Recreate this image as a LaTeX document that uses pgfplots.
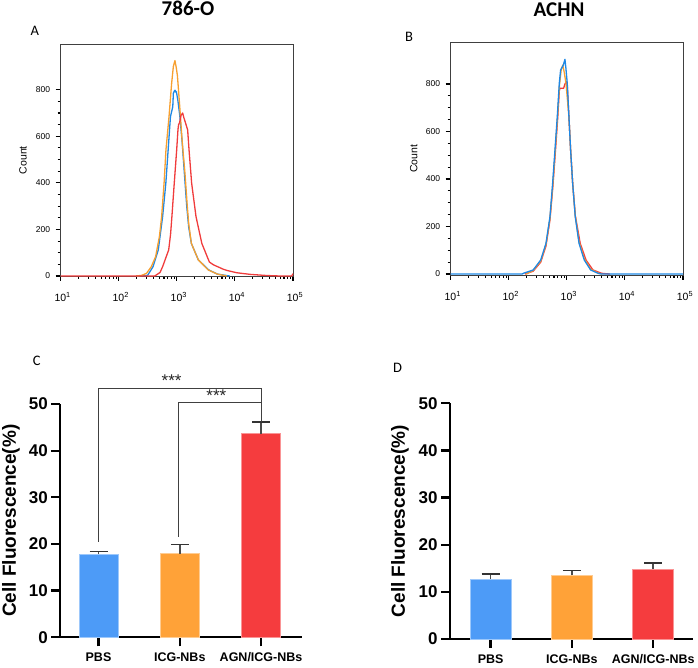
\documentclass[border=0pt]{standalone}
\usepackage{pgfplots}
\pgfplotsset{compat=1.18}
\usepackage{fontspec}
\setmainfont{Liberation Sans}
\newfontfamily\calibri{Carlito}
\definecolor{lblue}{RGB}{30,136,229}
\definecolor{lorange}{RGB}{247,160,48}
\definecolor{lred}{RGB}{240,60,60}
\definecolor{bblue}{RGB}{77,155,247}
\definecolor{borange}{RGB}{255,162,56}
\definecolor{bred}{RGB}{245,60,62}
\begin{document}
\begin{tikzpicture}
\path[use as bounding box] (0pt,0pt) rectangle (698pt,668pt);

% titles and panel letters
\node[font=\calibri\bfseries\fontsize{21}{21}\selectfont] at (188pt,659.5pt) {786-O};
\node[font=\calibri\bfseries\fontsize{21}{21}\selectfont] at (559pt,658pt) {ACHN};
\node[font=\calibri\fontsize{14.5}{14.5}\selectfont] at (34.7pt,636.7pt) {A};
\node[font=\calibri\fontsize{14.5}{14.5}\selectfont] at (409pt,631.3pt) {B};
\node[font=\calibri\fontsize{14.5}{14.5}\selectfont] at (36.7pt,307pt) {C};
\node[font=\calibri\fontsize{14.5}{14.5}\selectfont] at (397.7pt,300.3pt) {D};

% ---------------- Panel A ----------------
\begin{axis}[scale only axis, anchor=south west, clip=false,
    xmode=log, xmin=10, xmax=100000, width=232.3pt,
    at={(60.7pt,392pt)}, height=231.7pt, ymin=0, ymax=995,
    axis line style={black!75, line width=0.9pt},
    tick pos=left, tick align=outside,
    xtick={10,100,1000,10000,100000},
    minor xtick={20,30,40,50,60,70,80,90,200,300,400,500,600,700,800,900,2000,3000,4000,5000,6000,7000,8000,9000,20000,30000,40000,50000,60000,70000,80000,90000},
    xticklabels={10\textsuperscript{1},10\textsuperscript{2},10\textsuperscript{3},10\textsuperscript{4},10\textsuperscript{5}},
    ytick={0,200,400,600,800}, minor y tick num=3,
    major tick length=5pt, minor tick length=3pt,
    xtick style={black, line width=1.1pt}, ytick style={black, line width=1.1pt},
    /pgf/number format/assume math mode=true,
    yticklabel style={font=\fontsize{8.5}{8.5}\selectfont, xshift=-2pt},
    xticklabel style={font=\fontsize{10.5}{10.5}\selectfont, yshift=-8pt, xshift=2pt},
    ylabel=Count,
    ylabel style={font=\fontsize{10.5}{10.5}\selectfont, at={(axis description cs:-0.162,0.5)}, anchor=center}]
\addplot[lblue, no markers, line width=1.3pt, line join=round] coordinates {
(200,0)(300,2)(316,4)(389,40)(479,112)(569,255)(646,398)(708,541)(776,684)(851,727)
(871,785)(912,795)(933,798)(955,790)(977,792)(1000,780)(1047,750)(1122,690)(1230,580)
(1349,440)(1479,300)(1600,210)(1778,140)(2344,69)(3548,26)(5000,8)(8128,0)};
\addplot[lorange, no markers, line width=1.3pt, line join=round] coordinates {
(200,0)(251,3)(302,12)(363,40)(431,83)(501,170)(547,255)(603,400)(649,541)(733,684)
(813,827)(871,900)(927,925)(977,895)(1023,860)(1122,727)(1230,584)(1380,441)(1514,298)
(1600,225)(1778,140)(2344,69)(3467,26)(5000,8)(7244,0)};
\addplot[lred, no markers, line width=1.3pt, line join=round] coordinates {
(10,0)(417,0)(513,15)(569,40)(650,80)(724,112)(780,180)(822,255)(902,398)(993,541)
(1047,630)(1072,650)(1120,660)(1180,690)(1259,700)(1320,680)(1400,660)(1535,627)
(1622,541)(1799,398)(2138,255)(2692,140)(3631,60)(4266,48)(6310,29)(7244,24)(10715,14)
(18197,7)(35481,2)(60000,0)(95000,0)(100000,10)};
\end{axis}

% ---------------- Panel B ----------------
\begin{axis}[scale only axis, anchor=south west, clip=false,
    xmode=log, xmin=10, xmax=100000, width=232.3pt,
    at={(450.7pt,393pt)}, height=232.3pt, ymin=-4, ymax=974,
    axis line style={black!75, line width=0.9pt},
    tick pos=left, tick align=outside,
    xtick={10,100,1000,10000,100000},
    minor xtick={20,30,40,50,60,70,80,90,200,300,400,500,600,700,800,900,2000,3000,4000,5000,6000,7000,8000,9000,20000,30000,40000,50000,60000,70000,80000,90000},
    xticklabels={10\textsuperscript{1},10\textsuperscript{2},10\textsuperscript{3},10\textsuperscript{4},10\textsuperscript{5}},
    ytick={0,200,400,600,800}, minor y tick num=3,
    major tick length=5pt, minor tick length=3pt,
    xtick style={black, line width=1.1pt}, ytick style={black, line width=1.1pt},
    /pgf/number format/assume math mode=true,
    yticklabel style={font=\fontsize{8.5}{8.5}\selectfont, xshift=-2pt},
    xticklabel style={font=\fontsize{10.5}{10.5}\selectfont, yshift=-8pt, xshift=2pt},
    ylabel=Count,
    ylabel style={font=\fontsize{10.5}{10.5}\selectfont, at={(axis description cs:-0.159,0.5)}, anchor=center}]
\addplot[lred, no markers, line width=1.3pt, line join=round] coordinates {
(190,0)(263,12)(355,50)(437,118)(512,228)(575,370)(635,515)(695,655)(741,770)(760,782)
(880,782)(927,800)(980,810)(1016,795)(1086,662)(1161,522)(1259,382)(1400,245)(1700,129)
(2138,59)(2818,17)(3981,3)(5500,0)};
\addplot[lorange, no markers, line width=1.3pt, line join=round] coordinates {
(200,0)(263,15)(355,55)(437,125)(512,235)(575,380)(630,520)(690,660)(750,800)(800,860)
(851,880)(900,850)(966,803)(1086,662)(1161,522)(1259,382)(1396,245)(1622,135)(1995,65)
(2570,20)(3467,4)(4000,0)};
\addplot[lblue, no markers, line width=1.3pt, line join=round] coordinates {
(10,0)(170,0)(178,3)(263,17)(355,59)(437,129)(512,241)(569,382)(624,522)(684,662)
(741,803)(781,859)(870,880)(927,904)(960,870)(1016,803)(1086,662)(1161,522)(1259,382)
(1396,241)(1622,129)(1995,59)(2570,17)(3467,3)(3981,0)(100000,0)};
\end{axis}

% ---------------- Panel C ----------------
\begin{axis}[scale only axis, anchor=south west, clip=false,
    at={(60.3pt,30.7pt)}, width=241.4pt, height=233.3pt,
    xmin=-0.47, xmax=2.5,
    axis lines=left, axis line style={-, black, line width=2.3pt},
    ymin=0, ymax=50, ytick={0,10,20,30,40,50},
    xtick={0,1,2}, xticklabels={PBS,ICG-NBs,AGN/ICG-NBs},
    tick align=outside, major tick length=9pt,
    xtick style={black, line width=2.3pt}, ytick style={black, line width=2.3pt},
    /pgf/number format/assume math mode=true,
    yticklabel style={font=\bfseries\fontsize{17}{17}\selectfont},
    xticklabel style={font=\bfseries\fontsize{12.5}{12.5}\selectfont, yshift=-3pt},
    ylabel={Cell Fluorescence(\%)},
    ylabel style={font=\bfseries\fontsize{19}{19}\selectfont, at={(axis description cs:-0.204,0.5)}, anchor=center}]
\addplot[ybar, bar width=39pt, bar shift=0pt, fill=bblue, draw=bblue!55!white, line width=0.8pt,
  error bars/y dir=plus, error bars/y explicit,
  error bars/error bar style={line width=1.6pt, draw=black!70},
  error bars/error mark options={rotate=90, line width=1.6pt, mark size=9pt, draw=black!80}]
  coordinates {(0,17.8) +- (0,0.6)};
\addplot[ybar, bar width=39pt, bar shift=0pt, fill=borange, draw=borange!55!white, line width=0.8pt,
  error bars/y dir=plus, error bars/y explicit,
  error bars/error bar style={line width=1.6pt, draw=black!70},
  error bars/error mark options={rotate=90, line width=1.6pt, mark size=9pt, draw=black!80}]
  coordinates {(1,17.9) +- (0,2.0)};
\addplot[ybar, bar width=39pt, bar shift=0pt, fill=bred, draw=bred!55!white, line width=0.8pt,
  error bars/y dir=plus, error bars/y explicit,
  error bars/error bar style={line width=1.6pt, draw=black!70},
  error bars/error mark options={rotate=90, line width=1.6pt, mark size=9pt, draw=black!80}]
  coordinates {(2,43.6) +- (0,2.5)};
\draw[black!75, line width=1.1pt] (axis cs:0,20.5) |- (axis cs:2,53.4) -- (axis cs:2,46.2);
\draw[black!75, line width=1.1pt] (axis cs:0.98,21.6) |- (axis cs:2,50.4);
\node[font=\fontsize{17}{17}\selectfont, black!85] at (axis cs:0.9,55.0) {***};
\node[font=\fontsize{17}{17}\selectfont, black!85] at (axis cs:1.45,51.8) {***};
\end{axis}

% ---------------- Panel D ----------------
\begin{axis}[scale only axis, anchor=south west, clip=false,
    at={(450pt,29pt)}, width=243pt, height=235.7pt,
    xmin=-0.5, xmax=2.49,
    axis lines=left, axis line style={-, black, line width=2.3pt},
    ymin=0, ymax=50, ytick={0,10,20,30,40,50},
    xtick={0,1,2}, xticklabels={PBS,ICG-NBs,AGN/ICG-NBs},
    tick align=outside, major tick length=9pt,
    xtick style={black, line width=2.3pt}, ytick style={black, line width=2.3pt},
    /pgf/number format/assume math mode=true,
    yticklabel style={font=\bfseries\fontsize{17}{17}\selectfont},
    xticklabel style={font=\bfseries\fontsize{12.5}{12.5}\selectfont, yshift=-3pt},
    ylabel={Cell Fluorescence(\%)},
    ylabel style={font=\bfseries\fontsize{19}{19}\selectfont, at={(axis description cs:-0.206,0.5)}, anchor=center}]
\addplot[ybar, bar width=41pt, bar shift=0pt, fill=bblue, draw=bblue!55!white, line width=0.8pt,
  error bars/y dir=plus, error bars/y explicit,
  error bars/error bar style={line width=1.6pt, draw=black!70},
  error bars/error mark options={rotate=90, line width=1.6pt, mark size=9pt, draw=black!80}]
  coordinates {(0,12.7) +- (0,1.1)};
\addplot[ybar, bar width=41pt, bar shift=0pt, fill=borange, draw=borange!55!white, line width=0.8pt,
  error bars/y dir=plus, error bars/y explicit,
  error bars/error bar style={line width=1.6pt, draw=black!70},
  error bars/error mark options={rotate=90, line width=1.6pt, mark size=9pt, draw=black!80}]
  coordinates {(1,13.5) +- (0,1.0)};
\addplot[ybar, bar width=41pt, bar shift=0pt, fill=bred, draw=bred!55!white, line width=0.8pt,
  error bars/y dir=plus, error bars/y explicit,
  error bars/error bar style={line width=1.6pt, draw=black!70},
  error bars/error mark options={rotate=90, line width=1.6pt, mark size=9pt, draw=black!80}]
  coordinates {(2,14.8) +- (0,1.3)};
\end{axis}
\end{tikzpicture}
\end{document}
